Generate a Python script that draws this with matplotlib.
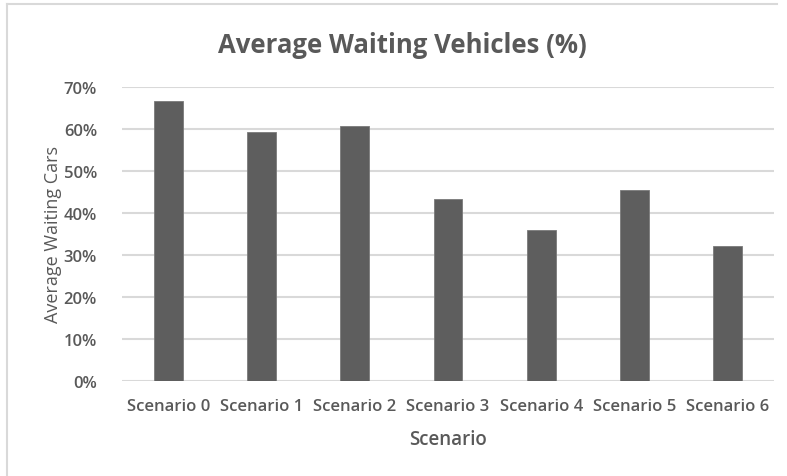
import matplotlib.pyplot as plt
from matplotlib.lines import Line2D
from matplotlib.ticker import FuncFormatter

# values
scenarios = ['Scenario 0', 'Scenario 1', 'Scenario 2', 'Scenario 3',
             'Scenario 4', 'Scenario 5', 'Scenario 6']
waiting = [66.6, 59.4, 60.6, 43.3, 36.0, 45.5, 32.1]

plt.rcParams['font.family'] = ['Open Sans', 'DejaVu Sans']
grey = '#595959'

fig = plt.figure(figsize=(7.87, 4.77), dpi=100)
ax = fig.add_axes([0.155, 0.1992, 0.8285, 0.6163])

x = range(len(scenarios))
ax.bar(x, waiting, width=0.31, color='#5e5e5e', edgecolor='#7a7a7a',
       linewidth=0.6, zorder=3)

ax.set_ylim(0, 70)
ax.set_xlim(-0.5, len(scenarios) - 0.5)
ax.set_yticks(range(0, 71, 10))
ax.yaxis.set_major_formatter(FuncFormatter(lambda v, p: f'{v:.0f}%'))
ax.set_xticks(list(x))
ax.set_xticklabels(scenarios)

ax.grid(axis='y', color='#d9d9d9', linewidth=1.5, zorder=0)
for s in ['top', 'right', 'left', 'bottom']:
    ax.spines[s].set_visible(False)
ax.tick_params(length=0, labelsize=12, labelcolor=grey)
ax.tick_params(axis='x', pad=12)
ax.tick_params(axis='y', pad=18)
for lbl in ax.get_xticklabels() + ax.get_yticklabels():
    lbl.set_fontweight('semibold')

fig.text(0.511, 0.905, 'Average Waiting Vehicles (%)', ha='center', va='center',
         fontsize=18.5, fontweight='bold', color=grey)
ax.set_xlabel('Scenario', fontsize=13.5, color=grey, fontweight='semibold', labelpad=11)
ax.set_ylabel('Average Waiting Cars', fontsize=13, color=grey, labelpad=1)

# outer chart-area border (top and left visible in the crop)
fig.add_artist(Line2D([7 / 787, 777 / 787], [1 - 5 / 477, 1 - 5 / 477],
                      transform=fig.transFigure, color='#d9d9d9', linewidth=1.5))
fig.add_artist(Line2D([7 / 787, 7 / 787], [0, 1 - 5 / 477],
                      transform=fig.transFigure, color='#d9d9d9', linewidth=1.5))

fig.savefig('out.png', dpi=100)
